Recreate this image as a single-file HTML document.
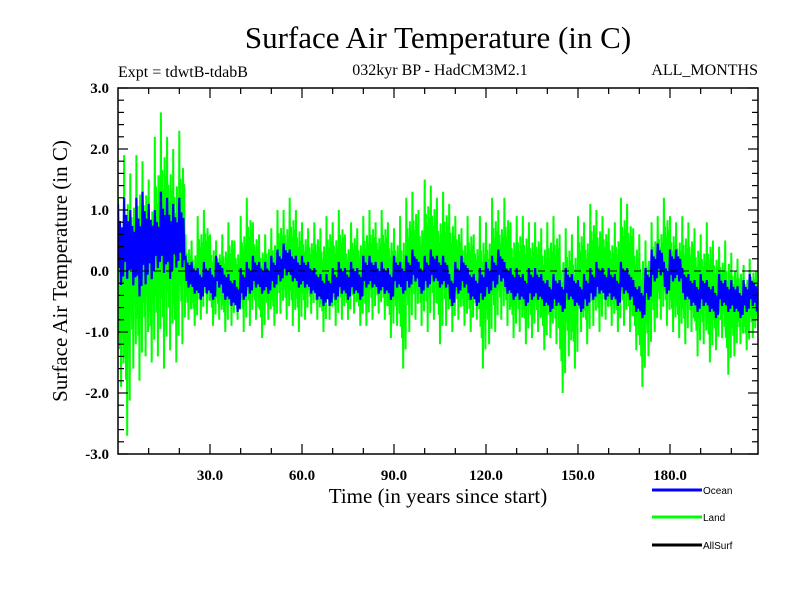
<!DOCTYPE html>
<html><head><meta charset="utf-8"><style>
body{margin:0;background:#fff;}
svg{display:block;}
text{font-family:"Liberation Serif",serif;fill:#000;}
</style></head><body>
<svg id="chart" width="800" height="600" viewBox="0 0 800 600">
<text x="438" y="48" font-size="31" text-anchor="middle">Surface Air Temperature (in C)</text>
<text x="118" y="77" font-size="16">Expt = tdwtB-tdabB</text>
<text x="440" y="75" font-size="16" text-anchor="middle">032kyr BP - HadCM3M2.1</text>
<text x="758" y="75" font-size="16" text-anchor="end">ALL_MONTHS</text>
<text x="438" y="503" font-size="21" text-anchor="middle">Time (in years since start)</text>
<text transform="translate(67,271) rotate(-90)" font-size="21" text-anchor="middle">Surface Air Temperature (in C)</text>
<defs><clipPath id="pc"><rect x="118" y="88" width="640" height="366"/></clipPath></defs>
<g id="marks" clip-path="url(#pc)"></g>
<g id="axes"></g>
<g id="legend"></g>
</svg>
<script>
const xTicks=[30,60,90,120,150,180];
const xTickLabels=["30.0","60.0","90.0","120.0","150.0","180.0"];
const yTicks=[-3,-2,-1,0,1,2,3];
const yTickLabels=["-3.0","-2.0","-1.0","0.0","1.0","2.0","3.0"];
const binYears=2;
const landHi=[1.2,1.9,1.6,1.9,1.8,1.5,2.2,2.6,2.2,2.0,2.3,0.6,0.5,0.9,1.0,0.6,0.5,0.6,0.8,0.5,0.9,1.2,0.8,0.6,0.6,0.7,1.0,1.0,1.2,1.0,0.8,0.7,0.8,0.7,0.9,0.8,1.0,0.6,0.8,0.7,0.9,1.0,0.8,1.0,0.8,0.7,0.9,1.2,1.3,1.0,1.5,1.4,1.2,1.3,1.1,0.9,0.7,0.9,0.6,0.9,0.8,1.2,1.0,1.2,0.8,0.9,0.9,0.8,0.8,0.7,0.8,0.9,0.6,0.7,0.6,0.9,0.8,1.1,1.0,0.9,0.7,0.8,1.2,1.1,0.7,0.6,0.5,0.8,0.9,1.2,0.9,0.8,0.9,0.8,0.7,0.6,0.8,0.5,0.4,0.5,0.3,0.2,0.1,0.2,0.0];
const landLo=[-1.9,-2.7,-1.6,-1.8,-1.4,-1.5,-1.4,-1.6,-1.3,-1.5,-1.2,-0.8,-0.9,-0.8,-0.7,-0.9,-0.8,-1.0,-0.9,-0.8,-1.0,-0.9,-0.8,-1.1,-0.8,-0.9,-0.7,-0.8,-0.9,-1.0,-0.8,-0.7,-0.8,-1.0,-0.8,-0.9,-0.8,-0.8,-0.7,-0.9,-0.9,-0.8,-0.7,-0.8,-1.1,-0.9,-1.6,-1.0,-0.8,-0.9,-1.0,-0.8,-1.2,-0.9,-1.0,-0.8,-0.9,-1.0,-0.8,-1.6,-1.2,-1.0,-0.8,-0.9,-1.1,-1.0,-1.2,-1.1,-1.0,-1.3,-1.1,-1.2,-2.0,-1.4,-1.6,-1.0,-1.2,-0.9,-1.0,-0.8,-0.9,-1.0,-0.9,-1.0,-1.3,-1.9,-1.4,-1.0,-0.8,-0.9,-1.0,-1.1,-1.2,-1.0,-1.4,-1.2,-1.5,-1.3,-1.1,-1.7,-1.4,-1.2,-1.3,-1.1,-1.0];
const oceanHi=[1.1,1.2,1.0,1.2,1.3,1.1,1.0,1.3,1.2,1.1,1.2,0.25,0.15,0.05,0.15,0.05,0.25,0.05,-0.05,-0.15,0.05,0.15,0.25,0.15,0.15,0.25,0.35,0.45,0.35,0.25,0.25,0.15,0.05,-0.05,-0.05,0.05,0.15,0.05,0.15,0.05,0.25,0.25,0.15,0.15,0.05,0.25,0.15,0.25,0.35,0.15,0.25,0.35,0.25,0.25,-0.05,0.15,0.25,0.05,-0.05,0.05,0.15,0.25,0.35,0.15,0.05,0.05,-0.05,0.05,0.05,-0.05,-0.15,-0.05,-0.15,0.05,-0.05,-0.15,-0.05,0.05,0.15,0.05,0.05,-0.05,0.15,0.05,-0.15,-0.25,0.05,0.35,0.45,0.15,0.35,0.35,0.05,-0.05,-0.15,-0.05,-0.15,-0.25,-0.05,-0.15,-0.15,-0.25,-0.15,-0.05,-0.25];
const oceanLo=[-0.3,-0.2,-0.3,-0.5,-0.3,-0.2,0.0,-0.1,-0.2,0.0,0.0,-0.3,-0.4,-0.5,-0.4,-0.5,-0.3,-0.5,-0.6,-0.7,-0.5,-0.4,-0.3,-0.4,-0.4,-0.3,-0.2,-0.1,-0.2,-0.3,-0.3,-0.4,-0.5,-0.6,-0.6,-0.5,-0.4,-0.5,-0.4,-0.5,-0.3,-0.3,-0.4,-0.4,-0.5,-0.3,-0.4,-0.3,-0.2,-0.4,-0.3,-0.2,-0.3,-0.3,-0.6,-0.4,-0.3,-0.5,-0.6,-0.5,-0.4,-0.3,-0.2,-0.4,-0.5,-0.5,-0.6,-0.5,-0.5,-0.6,-0.7,-0.6,-0.7,-0.5,-0.6,-0.7,-0.6,-0.5,-0.4,-0.5,-0.5,-0.6,-0.4,-0.5,-0.7,-0.8,-0.5,-0.2,-0.1,-0.4,-0.2,-0.2,-0.5,-0.6,-0.7,-0.6,-0.7,-0.8,-0.6,-0.7,-0.7,-0.8,-0.7,-0.6,-0.8];

const NS="http://www.w3.org/2000/svg";
const X0=118,X1=758,Y0=88,Y1=454,XMAX=208.7;
function sx(t){return X0+t*(X1-X0)/XMAX;}
function sy(v){return Y1-(v+3)*(Y1-Y0)/6;}
function mk(tag,attrs,parent){const e=document.createElementNS(NS,tag);for(const k in attrs)e.setAttribute(k,attrs[k]);parent.appendChild(e);return e;}
const marks=document.getElementById('marks'),axes=document.getElementById('axes'),legend=document.getElementById('legend');

function band(hi,lo,fr){
  const pts=[];const n=fr.length;
  for(let i=0;i<hi.length;i++){
    const m=(hi[i]+lo[i])/2;
    for(let k=0;k<n;k++){
      const t=(i+k/n)*binYears;
      const v=k%2===0? m+(hi[i]-m)*fr[k] : m-(m-lo[i])*fr[k];
      pts.push(sx(t).toFixed(1)+','+sy(v).toFixed(1));
    }
  }
  return pts.join(' ');
}
const land=mk('polyline',{points:band(landHi,landLo,[1,0.45,0.55,0.6,0.4,1,0.65,0.35,0.5,0.75]),fill:'none',stroke:'#00ff00','stroke-width':2},marks);


const ocean=mk('polyline',{points:band(oceanHi,oceanLo,[1,0.5,0.6,0.9,0.45,0.7]),fill:'none',stroke:'#0000ff','stroke-width':2.2},marks);


const zl=mk('line',{x1:X0,x2:X1,y1:sy(0),y2:sy(0),stroke:'#000','stroke-width':1,'stroke-dasharray':'7,5'},marks);



const frame=mk('rect',{x:X0,y:Y0,width:X1-X0,height:Y1-Y0,fill:'none',stroke:'#000','stroke-width':1.5},axes);


for(let t=10;t<XMAX;t+=10){
  const major=t%30===0,L=major?10:6,x=sx(t);
  mk('line',{x1:x,x2:x,y1:Y1,y2:Y1-L,stroke:'#000','stroke-width':1.2},axes);
  mk('line',{x1:x,x2:x,y1:Y0,y2:Y0+L,stroke:'#000','stroke-width':1.2},axes);
}
for(let i=0;i<=30;i++){
  const v=-3+i*0.2,major=i%5===0,L=major?10:6,y=sy(v);
  mk('line',{x1:X0,x2:X0+L,y1:y,y2:y,stroke:'#000','stroke-width':1.2},axes);
  mk('line',{x1:X1,x2:X1-L,y1:y,y2:y,stroke:'#000','stroke-width':1.2},axes);
}
xTicks.forEach((t,i)=>{
  const e=mk('text',{x:sx(t),y:480,'font-size':15,'font-weight':'bold','text-anchor':'middle'},axes);
  e.textContent=xTickLabels[i];
  
  
});
yTicks.forEach((v,i)=>{
  const e=mk('text',{x:109,y:sy(v)+5,'font-size':15,'font-weight':'bold','text-anchor':'end'},axes);
  e.textContent=yTickLabels[i];
  
  
});
const legItems=[["Ocean","#0000ff",490],["Land","#00ff00",517],["AllSurf","#000000",545]];
legItems.forEach(it=>{
  const g=mk('g',{},legend);
  
  
  mk('line',{x1:652,x2:702,y1:it[2],y2:it[2],stroke:it[1],'stroke-width':3},g);
  const t=mk('text',{x:703,y:it[2]+4,'font-size':10,style:'font-family:"Liberation Sans",sans-serif'},g);
  t.textContent=it[0];
});
</script>
</body></html>
